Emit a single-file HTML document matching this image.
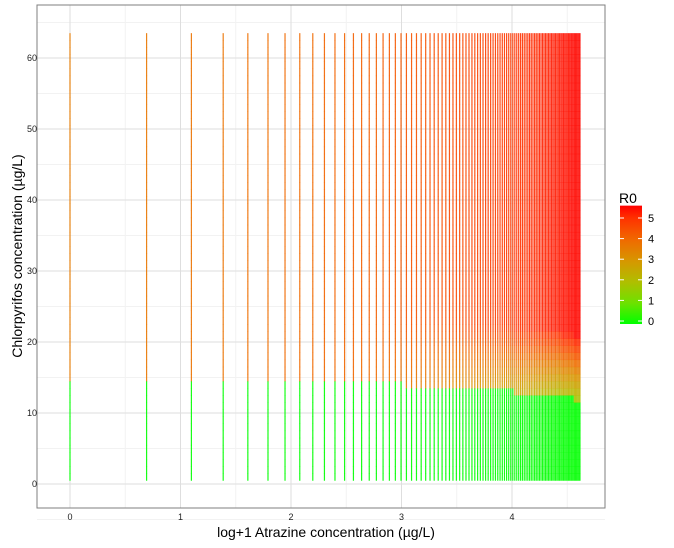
<!DOCTYPE html>
<html><head><meta charset="utf-8"><style>
html,body{margin:0;padding:0;background:#fff;}
svg{display:block;font-family:"Liberation Sans",Arial,sans-serif;}
</style></head><body>
<svg id="chart" width="674" height="548" viewBox="0 0 674 548">
<g id="grid"></g>
<g id="tiles"></g>
<rect x="37" y="5" width="568" height="503" fill="none" stroke="#7f7f7f" stroke-width="1"/>
<g id="xticks"></g>
<g id="yticks"></g>
<text x="326" y="537" font-size="14" text-anchor="middle" fill="#000">log+1 Atrazine concentration (µg/L)</text>
<text transform="translate(22,256) rotate(-90)" font-size="14" text-anchor="middle" fill="#000">Chlorpyrifos concentration (µg/L)</text>
<g id="legend">
<text x="619" y="203" font-size="14" fill="#000">R0</text>
</g>
</svg>
<script>
// Data
const atrazine = Array.from({length:101},(_,i)=>i); // categories 0..100
const chlorpyrifos = Array.from({length:63},(_,i)=>i+1); // categories 1..63
const threshold = [15,15,15,15,15,15,14.5,14.5,14.5,14.5,
14.5,14.5,14.5,14.5,14.5,14.5,14.5,14.5,14.5,14.5,
14,14,14,14,14,14,14,14,14,14,
14,14,14,14,14,13.5,13.5,13.5,13.5,13.5,
13.5,13.5,13.5,13.5,13.5,13.5,13.5,13.5,13.5,13.5,
13.5,13.5,13.5,13.5,13.5,13,13,13,13,13,
13,13,13,13,13,13,13,13,13,13,
13,13,13,13,13,13,13,13,13,13,
13,13,13,13,13,12.5,12.5,12.5,12.5,12.5,
12.5,12.5,12.5,12.5,12.5,12,12,12,12,12,12];
const r0Top = [3.6,3.7,3.8,3.8,3.9,3.9,4.0,4.0,4.0,4.1,
4.1,4.1,4.2,4.2,4.2,4.2,4.3,4.3,4.3,4.3,
4.4,4.4,4.4,4.4,4.4,4.5,4.5,4.5,4.5,4.5,
4.6,4.6,4.6,4.6,4.6,4.6,4.7,4.7,4.7,4.7,
4.7,4.7,4.8,4.8,4.8,4.8,4.8,4.8,4.9,4.9,
4.9,4.9,4.9,4.9,4.9,5.0,5.0,5.0,5.0,5.0,
5.0,5.0,5.1,5.1,5.1,5.1,5.1,5.1,5.1,5.2,
5.2,5.2,5.2,5.2,5.2,5.2,5.3,5.3,5.3,5.3,
5.3,5.3,5.3,5.3,5.4,5.4,5.4,5.4,5.4,5.4,
5.4,5.4,5.5,5.5,5.5,5.5,5.5,5.5,5.5,5.5,5.5];
const r0Start = [3.6,3.7,3.8,3.8,3.9,3.9,4.0,4.0,4.0,4.0,
4.0,4.0,4.0,3.9,3.9,3.9,3.8,3.8,3.8,3.7,
3.7,3.7,3.6,3.6,3.6,3.5,3.5,3.5,3.4,3.4,
3.4,3.3,3.3,3.3,3.2,3.2,3.2,3.1,3.1,3.1,
3.0,3.0,3.0,3.0,2.9,2.9,2.9,2.9,2.8,2.8,
2.8,2.8,2.7,2.7,2.7,2.7,2.6,2.6,2.6,2.6,
2.5,2.5,2.5,2.5,2.5,2.4,2.4,2.4,2.4,2.4,
2.3,2.3,2.3,2.3,2.3,2.2,2.2,2.2,2.2,2.2,
2.2,2.1,2.1,2.1,2.1,2.1,2.1,2.0,2.0,2.0,
2.0,2.0,2.0,2.0,1.9,1.9,1.9,1.9,1.9,1.9,1.9];
const xTicks=[0,1,2,3,4];
const yTicks=[0,10,20,30,40,50,60];
const legendTicks=[0,1,2,3,4,5];

const NS="http://www.w3.org/2000/svg";
const X=v=>70+v*110.5;
const Y=v=>484-v*7.1;
const L=v=>321-v*20.6;
const stops=[[0,[0,255,0]],[1,[110,225,0]],[2,[176,190,0]],[3,[215,150,0]],[4,[240,105,0]],[5,[255,50,0]],[5.6,[255,0,0]]];
function col(v){v=Math.max(0,Math.min(5.6,v));for(let i=1;i<stops.length;i++){if(v<=stops[i][0]){const a=stops[i-1],b=stops[i],t=(v-a[0])/(b[0]-a[0]);const c=a[1].map((q,j)=>Math.round(q+(b[1][j]-q)*t));return`rgb(${c})`;}}return'rgb(255,0,0)';}
function mk(tag,attrs,parent){const e=document.createElementNS(NS,tag);for(const k in attrs)e.setAttribute(k,attrs[k]);parent.appendChild(e);return e;}

const grid=document.getElementById('grid');
for(let v=0.5;v<=4.5;v+=1){const l=mk('line',{x1:X(v),x2:X(v),y1:5,y2:508,stroke:'#f2f2f2','stroke-width':1},grid);}
for(let v=-5;v<=65;v+=10){const l=mk('line',{x1:37,x2:605,y1:Y(v),y2:Y(v),stroke:'#f2f2f2','stroke-width':1},grid);}
xTicks.forEach(v=>{const l=mk('line',{x1:X(v),x2:X(v),y1:5,y2:508,stroke:'#dedede','stroke-width':1},grid);});
yTicks.forEach(v=>{const l=mk('line',{x1:37,x2:605,y1:Y(v),y2:Y(v),stroke:'#dedede','stroke-width':1},grid);});

const tiles=document.getElementById('tiles');
const w=1.2;
atrazine.forEach((a,i)=>{
  const lx=Math.log(1+a);
  const g=mk('g',{},tiles);
  
  
  chlorpyrifos.forEach(c=>{
    let r=0;
    if(c>=threshold[i]){r=Math.min(r0Top[i],r0Start[i]+(r0Top[i]-r0Start[i])*(c-threshold[i])/9);}
    const rc=mk('rect',{x:X(lx)-w/2,y:Y(c+0.5),width:w,height:7.4,fill:col(r),'fill-opacity':0.9},g);
    
    
  });
});

const xt=document.getElementById('xticks');
xTicks.forEach(v=>{const t=mk('text',{x:X(v),y:520,'font-size':9,'text-anchor':'middle',fill:'#222'},xt);t.textContent=v;});
const yt=document.getElementById('yticks');
yTicks.forEach(v=>{const t=mk('text',{x:37,y:Y(v)+3,'font-size':9,'text-anchor':'end',fill:'#222'},yt);t.textContent=v;});

const lg=document.getElementById('legend');
const defs=mk('defs',{},lg);
const grad=mk('linearGradient',{id:'lgGrad',x1:0,y1:1,x2:0,y2:0},defs);
stops.forEach(s=>mk('stop',{offset:(s[0]/5.6),'stop-color':col(s[0])},grad));
const bar=mk('rect',{x:620,y:L(5.6),width:22,height:L(0)-L(5.6)+3,fill:'url(#lgGrad)'},lg);


legendTicks.forEach(v=>{
  const a=mk('line',{x1:620,x2:624,y1:L(v),y2:L(v),stroke:'#fff','stroke-width':1},lg);
  
  const b=mk('line',{x1:638,x2:642,y1:L(v),y2:L(v),stroke:'#fff','stroke-width':1},lg);
  
  const t=mk('text',{x:648,y:L(v)+4,'font-size':11,fill:'#000'},lg);t.textContent=v;
  
});
</script>
</body></html>
